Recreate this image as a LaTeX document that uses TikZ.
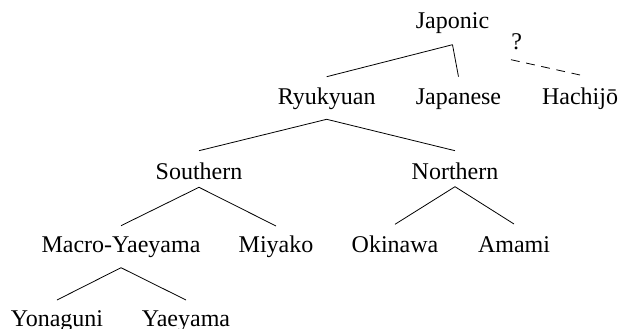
\documentclass[tikz,border=0pt]{standalone}
\usepackage{fontspec}
\setmainfont{Liberation Serif}
\begin{document}
\begin{tikzpicture}[x=1pt,y=-1pt,
  lang/.style={anchor=base,inner sep=0pt,font=\fontsize{24}{28}\selectfont},
  branch/.style={line width=0.8pt,black},
  uncertain/.style={line width=0.8pt,black,dash pattern=on 8.8pt off 6.7pt}]
\useasboundingbox (0,0) rectangle (622,329);
% nodes
\node[lang] (japonic)  at (452.5,29) {Japonic};
\node[lang] (ryukyuan) at (326.7,105) {Ryukyuan};
\node[lang] (japanese) at (458.5,105) {Japanese};
\node[lang] (hachijo)  at (580,105) {Hachijō};
\node[lang] (qmark)    at (516.7,50) {?};
\node[lang] (southern) at (199,179) {Southern};
\node[lang] (northern) at (455,179) {Northern};
\node[lang] (macro)    at (121,252.7) {Macro-Yaeyama};
\node[lang] (miyako)   at (276,252.7) {Miyako};
\node[lang] (okinawa)  at (395,252.7) {Okinawa};
\node[lang] (amami)    at (514,252.7) {Amami};
\node[lang] (yonaguni) at (57,326) {Yonaguni};
\node[lang] (yaeyama)  at (186,326) {Yaeyama};
\coordinate (dashstart) at (511,59.7);
% connectors
\draw[branch] ([yshift=-15.7]japonic.base) -- ([yshift=28.3]ryukyuan.base);
\draw[branch] ([yshift=-15.7]japonic.base) -- ([yshift=28.3]japanese.base);
\draw[uncertain] (dashstart) -- ([yshift=30]hachijo.base);
\draw[branch] ([yshift=-14.3]ryukyuan.base) -- ([yshift=28.3]southern.base);
\draw[branch] ([yshift=-14.3]ryukyuan.base) -- ([yshift=28.3]northern.base);
\draw[branch] ([yshift=-8.3]southern.base) -- ([yshift=27]macro.base);
\draw[branch] ([yshift=-8.3]southern.base) -- ([yshift=26.7]miyako.base);
\draw[branch] ([yshift=-7.7]northern.base) -- ([yshift=28.4]okinawa.base);
\draw[branch] ([yshift=-7.7]northern.base) -- ([yshift=28.7]amami.base);
\draw[branch] ([yshift=-15]macro.base) -- ([yshift=26]yonaguni.base);
\draw[branch] ([yshift=-15]macro.base) -- ([yshift=26]yaeyama.base);
\end{tikzpicture}
\end{document}
